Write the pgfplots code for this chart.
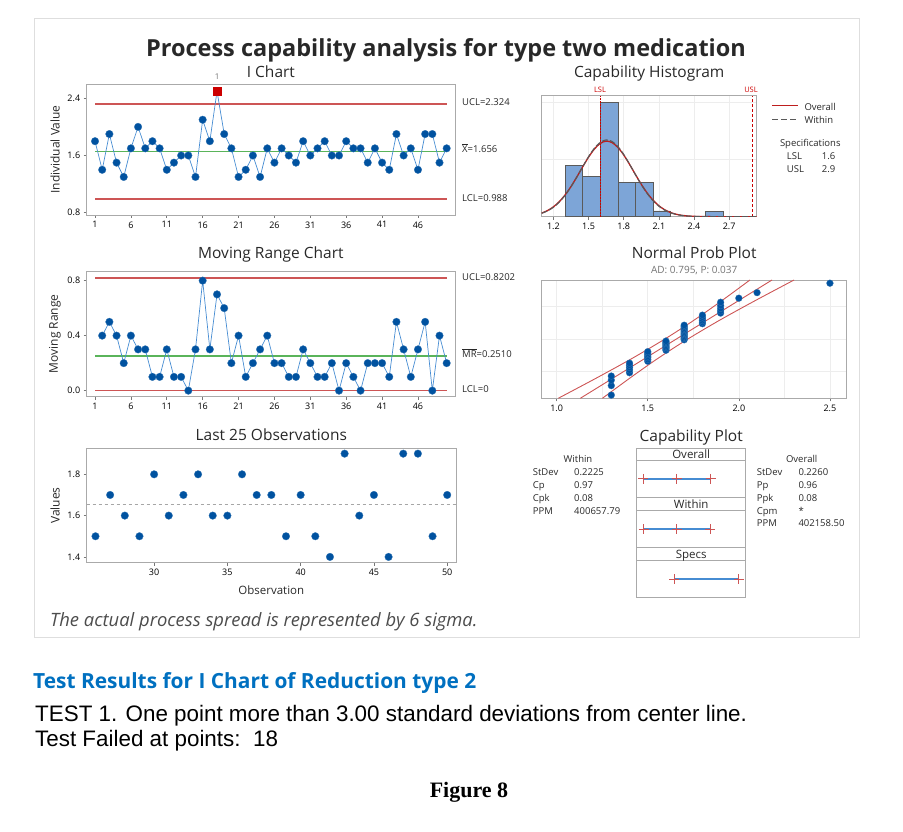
\documentclass[border=0pt]{standalone}
\usepackage{fontspec}
\setmainfont{Open Sans}
\newfontfamily\arialfont{Liberation Sans}
\newfontfamily\timesfont{Liberation Serif}
\usepackage{pgfplots}
\pgfplotsset{compat=1.18}
\usepackage{pgfplotstable}

\newcommand\fs[1]{\fontsize{#1}{#1}\selectfont}

\definecolor{mtblue}{RGB}{0,82,160}
\definecolor{mtline}{RGB}{70,140,210}
\definecolor{limred}{RGB}{205,85,85}
\definecolor{mtredpt}{RGB}{204,0,0}
\definecolor{mtgreen}{RGB}{90,180,90}
\definecolor{mtbar}{RGB}{125,165,215}
\definecolor{mtbarline}{RGB}{90,90,90}
\definecolor{mtcurve}{RGB}{190,30,30}
\definecolor{mtframe}{RGB}{170,170,170}
\definecolor{mttext}{RGB}{40,40,40}
\definecolor{headblue}{RGB}{0,112,192}

% individual values and moving ranges, obs 1..50
\pgfplotstableread{
obs val mr
1 1.8 nan
2 1.4 0.4
3 1.9 0.5
4 1.5 0.4
5 1.3 0.2
6 1.7 0.4
7 2.0 0.3
8 1.7 0.3
9 1.8 0.1
10 1.7 0.1
11 1.4 0.3
12 1.5 0.1
13 1.6 0.1
14 1.6 0.0
15 1.3 0.3
16 2.1 0.8
17 1.8 0.3
18 2.5 0.7
19 1.9 0.6
20 1.7 0.2
21 1.3 0.4
22 1.4 0.1
23 1.6 0.2
24 1.3 0.3
25 1.7 0.4
26 1.5 0.2
27 1.7 0.2
28 1.6 0.1
29 1.5 0.1
30 1.8 0.3
31 1.6 0.2
32 1.7 0.1
33 1.8 0.1
34 1.6 0.2
35 1.6 0.0
36 1.8 0.2
37 1.7 0.1
38 1.7 0.0
39 1.5 0.2
40 1.7 0.2
41 1.5 0.2
42 1.4 0.1
43 1.9 0.5
44 1.6 0.3
45 1.7 0.1
46 1.4 0.3
47 1.9 0.5
48 1.9 0.0
49 1.5 0.4
50 1.7 0.2
}\ichart

% sorted values against normal scores
\pgfplotstableread{
val z
1.3 -2.200
1.3 -1.828
1.3 -1.611
1.3 -1.451
1.4 -1.321
1.4 -1.210
1.4 -1.113
1.4 -1.025
1.4 -0.944
1.5 -0.869
1.5 -0.798
1.5 -0.732
1.5 -0.668
1.5 -0.607
1.5 -0.548
1.5 -0.492
1.6 -0.436
1.6 -0.382
1.6 -0.329
1.6 -0.277
1.6 -0.226
1.6 -0.175
1.6 -0.125
1.6 -0.075
1.7 -0.025
1.7 0.025
1.7 0.075
1.7 0.125
1.7 0.175
1.7 0.226
1.7 0.277
1.7 0.329
1.7 0.382
1.7 0.436
1.7 0.492
1.7 0.548
1.8 0.607
1.8 0.668
1.8 0.732
1.8 0.798
1.8 0.869
1.8 0.944
1.9 1.025
1.9 1.113
1.9 1.210
1.9 1.321
1.9 1.451
2.0 1.611
2.1 1.828
2.5 2.200
}\nprob

% fitted curves (overall / within), in counts per bin
\pgfplotstableread{
x ov wi
1.10 0.642 0.593
1.15 1.080 1.013
1.20 1.730 1.647
1.25 2.636 2.546
1.30 3.828 3.741
1.35 5.293 5.224
1.40 6.971 6.939
1.45 8.740 8.761
1.50 10.43 10.52
1.55 11.86 12.01
1.60 12.84 13.03
1.65 13.24 13.45
1.70 12.99 13.19
1.75 12.14 12.30
1.80 10.81 10.91
1.85 9.16 9.20
1.90 7.39 7.37
1.95 5.68 5.62
2.00 4.16 4.07
2.05 2.90 2.80
2.10 1.92 1.84
2.15 1.21 1.14
2.20 0.731 0.677
2.25 0.419 0.381
2.30 0.228 0.204
2.35 0.119 0.104
2.40 0.059 0.050
2.45 0.028 0.023
2.50 0.012 0.010
2.60 0.002 0.001
2.70 0.000 0.000
2.95 0.000 0.000
}\curves

\pgfplotsset{
  mt/.style={
    scale only axis,
    axis line style={draw=mtframe, line width=0.9pt},
    tick style={draw=mtframe!70!black, line width=0.6pt},
    major tick length=3pt,
    tick align=outside,
    tick pos=left,
    ticklabel style={font=\fs{9}, text=black},
    /pgf/number format/assume math mode=true,
  },
  dec1/.style={/pgf/number format/.cd, fixed, fixed zerofill, precision=1},
  pts/.style={only marks, mark=*, mark size=3.8pt,
    mark options={fill=mtblue, draw=mtblue!80!white, line width=0.3pt}},
  lim/.style={color=limred, line width=1.6pt},
}

\begin{document}
\begin{tikzpicture}[x=1pt,y=1pt]
\useasboundingbox (0,0) rectangle (903,832);
\draw[black!13, line width=0.8pt] (34,814) rectangle (859,195);

% ---------- I chart
\begin{axis}[mt, at={(86.7pt,748pt)}, anchor=north west,
  width=368.3pt, height=131pt,
  xmin=-0.16, xmax=51.16, ymin=0.768, ymax=2.6,
  xtick={1,6,...,46}, ytick={0.8,1.6,2.4}, yticklabel style={dec1}]
\addplot[lim] coordinates {(1,2.324) (50,2.324)};
\addplot[lim] coordinates {(1,0.988) (50,0.988)};
\addplot[mtgreen, line width=1.4pt] coordinates {(1,1.656) (50,1.656)};
\addplot[mtline, line width=0.7pt] table[x=obs,y=val]{\ichart};
\addplot[pts, skip coords between index={17}{18}] table[x=obs,y=val]{\ichart};
\addplot[only marks, mark=square*, mark size=4.2pt,
  mark options={fill=mtredpt, draw=mtredpt}] coordinates {(18,2.5)};
\end{axis}

% ---------- Moving range chart
\begin{axis}[mt, at={(86.7pt,561pt)}, anchor=north west,
  width=368.3pt, height=125.7pt,
  xmin=-0.16, xmax=51.16, ymin=-0.044, ymax=0.87,
  xtick={1,6,...,46}, ytick={0,0.4,0.8}, yticklabel style={dec1}]
\addplot[lim] coordinates {(1,0.8202) (50,0.8202)};
\addplot[lim] coordinates {(1,0) (50,0)};
\addplot[mtgreen, line width=1.4pt] coordinates {(1,0.2510) (50,0.2510)};
\addplot[mtline, line width=0.7pt] table[x=obs,y=mr]{\ichart};
\addplot[pts] table[x=obs,y=mr]{\ichart};
\end{axis}

% ---------- Last 25 observations
\begin{axis}[mt, at={(86.7pt,383.7pt)}, anchor=north west,
  width=369.3pt, height=114.4pt,
  xmin=25.4, xmax=50.6, ymin=1.372, ymax=1.926,
  xtick={30,35,...,50}, ytick={1.4,1.6,1.8}, yticklabel style={dec1}]
\addplot[black!35, dashed, line width=0.8pt] coordinates {(25.4,1.656) (50.6,1.656)};
\addplot[pts, skip coords between index={0}{25}] table[x=obs,y=val]{\ichart};
\end{axis}

% ---------- Capability histogram
\begin{axis}[mt, at={(541.7pt,736.3pt)}, anchor=north west,
  width=215pt, height=121pt,
  xmin=1.1, xmax=2.935, ymin=0, ymax=21.2,
  xtick={1.2,1.5,1.8,2.1,2.4,2.7}, xticklabel style={dec1},
  ytick={10,20}, yticklabels={}, ytick style={draw=none},
  grid=major, grid style={black!7, line width=0.5pt}]
\addplot[ybar interval, fill=mtbar, draw=mtbarline, line width=0.7pt]
  coordinates {(1.3,9) (1.45,7) (1.6,20) (1.75,6) (1.9,6) (2.05,1) (2.2,1)};
\addplot[ybar interval, fill=mtbar, draw=mtbarline, line width=0.7pt]
  coordinates {(2.5,1) (2.65,1)};
\addplot[mtredpt, dash pattern=on 1.5pt off 1.5pt, line width=0.9pt] coordinates {(1.6,0) (1.6,21.2)};
\addplot[mtredpt, dash pattern=on 3pt off 2pt, line width=0.9pt] coordinates {(2.9,0) (2.9,21.2)};
\addplot[mtcurve, line width=1.3pt, smooth] table[x=x,y=ov]{\curves};
\addplot[black!65, dash pattern=on 6pt off 2pt, line width=1.1pt, smooth] table[x=x,y=wi]{\curves};
\end{axis}

% ---------- Normal probability plot
\begin{axis}[mt, at={(541.7pt,552pt)}, anchor=north west,
  width=305pt, height=118.3pt,
  xmin=0.918, xmax=2.592, ymin=-2.326, ymax=2.326,
  xtick={1,1.5,2,2.5}, minor xtick={1.25,1.75,2.25}, minor tick length=0pt,
  xticklabel style={dec1},
  ytick={-1.2816,0,1.2816}, yticklabels={}, ytick style={draw=none},
  grid=both, grid style={black!7, line width=0.5pt},
  minor grid style={black!7, line width=0.5pt}]
\addplot[limred, line width=0.9pt] coordinates {(1.130,-2.326) (2.182,2.326)};
\addplot[limred, line width=0.9pt, smooth] coordinates {(1.009,-2.326) (1.226,-1.5) (1.416,-0.75) (1.593,0) (1.755,0.75) (1.904,1.5) (2.061,2.326)};
\addplot[limred, line width=0.9pt, smooth] coordinates {(1.251,-2.326) (1.408,-1.5) (1.557,-0.75) (1.719,0) (1.896,0.75) (2.086,1.5) (2.303,2.326)};
\addplot[pts, mark size=3.4pt] table[x=val,y=z]{\nprob};
\end{axis}

% ---------- Capability plot
\begin{axis}[scale only axis, at={(636.7pt,383.7pt)}, anchor=north west,
  width=109pt, height=149.4pt,
  xmin=0.849, xmax=3.041, ymin=0, ymax=149.4,
  axis line style={draw=mtframe, line width=0.9pt},
  xtick=\empty, ytick=\empty]
\addplot[mtline, line width=1.6pt, mark=+, mark size=5pt,
  mark options={limred, line width=1pt}] coordinates {(0.978,118.7) (1.656,118.7) (2.334,118.7)};
\addplot[mtline, line width=1.6pt, mark=+, mark size=5pt,
  mark options={limred, line width=1pt}] coordinates {(0.9885,68.4) (1.656,68.4) (2.3235,68.4)};
\addplot[mtline, line width=1.6pt, mark=+, mark size=5pt,
  mark options={limred, line width=1pt}] coordinates {(1.6,18.4) (2.9,18.4)};
\end{axis}
\foreach \yy in {371.7,334.7,321.7,284.7,271.7}
  \draw[mtframe, line width=0.9pt] (636.7,\yy) -- (745.7,\yy);

% ---------- texts
\begin{scope}[every node/.style={inner sep=0pt, text=mttext}]
\node[anchor=base, font=\bfseries\fs{23.5}] at (446,775.3) {Process capability analysis for type two medication};
\node[anchor=base, font=\fs{15.5}] at (270.9,754.7) {I Chart};
\node[anchor=base, font=\fs{8}, text=black!55] at (217.1,752) {1};
\node[anchor=base, font=\fs{15.5}] at (270.9,573.5) {Moving Range Chart};
\node[anchor=base, font=\fs{15.5}] at (271.3,391) {Last 25 Observations};
\node[anchor=base, font=\fs{15.5}] at (649.2,754.7) {Capability Histogram};
\node[anchor=base, font=\fs{15.5}] at (694.2,573.7) {Normal Prob Plot};
\node[anchor=base, font=\fs{10}, text=black!55] at (694.2,558) {AD: 0.795, P: 0.037};
\node[anchor=base, font=\fs{15.5}] at (691.2,390.3) {Capability Plot};

\begin{scope}[every node/.append style={anchor=base west, font=\fs{9.5}}]
\node at (462,726.7) {UCL=2.324};
\node at (462,679.3) {$\overline{\mbox{X}}$=1.656};
\node at (462,630.3) {LCL=0.988};
\node at (462,551.3) {UCL=0.8202};
\node at (462,474.3) {$\overline{\mbox{MR}}$=0.2510};
\node at (462,439.3) {LCL=0};
\end{scope}

\node[rotate=90, font=\fs{12}] at (55,682.5) {Individual Value};
\node[rotate=90, font=\fs{12}] at (55,498.2) {Moving Range};
\node[rotate=90, font=\fs{12}] at (55,326.5) {Values};
\node[anchor=base, font=\fs{11.5}] at (271.3,237) {Observation};
\node[anchor=base west, font=\itshape\fs{18.4}, text=black!70] at (50,205.3) {The actual process spread is represented by 6 sigma.};

% histogram legend
\node[anchor=base, font=\fs{7.5}, text=mtredpt] at (600,739.3) {LSL};
\node[anchor=base, font=\fs{7.5}, text=mtredpt] at (751,739.3) {USL};
\draw[mtcurve, line width=1.6pt] (772,726.3) -- (798,726.3);
\draw[black!65, line width=1.3pt, dash pattern=on 6pt off 3pt] (772,712.3) -- (798,712.3);
\begin{scope}[every node/.append style={anchor=base west, font=\fs{9.5}}]
\node at (804.3,721.3) {Overall};
\node at (804.3,708) {Within};
\node[anchor=base] at (810.3,685.3) {Specifications};
\node at (786.7,672) {LSL};
\node at (821.7,672) {1.6};
\node at (786.7,659.3) {USL};
\node at (821.7,659.3) {2.9};
\end{scope}

% capability stats
\begin{scope}[every node/.append style={anchor=base west, font=\fs{9.5}}]
\node[anchor=base] at (578,369.7) {Within};
\node at (532.7,356) {StDev}; \node at (574,356) {0.2225};
\node at (532.7,343.3) {Cp}; \node at (574,343.3) {0.97};
\node at (532.7,330.3) {Cpk}; \node at (574,330.3) {0.08};
\node at (532.7,317.7) {PPM}; \node at (574,317.7) {400657.79};
\node[anchor=base] at (801.7,369.7) {Overall};
\node at (756.7,356) {StDev}; \node at (798.3,356) {0.2260};
\node at (756.7,343.3) {Pp}; \node at (798.3,343.3) {0.96};
\node at (756.7,330.3) {Ppk}; \node at (798.3,330.3) {0.08};
\node at (756.7,317.7) {Cpm}; \node at (798.3,317.7) {*};
\node at (756.7,305) {PPM}; \node at (798.3,305) {402158.50};
\end{scope}
\node[anchor=base, font=\fs{11.5}] at (691.2,373.3) {Overall};
\node[anchor=base, font=\fs{11.5}] at (691.2,323.3) {Within};
\node[anchor=base, font=\fs{11.5}] at (691.2,273) {Specs};

% report text below the graph
\node[anchor=base west, font=\bfseries\fs{20.9}, text=headblue] at (33,143.7) {Test Results for I Chart of Reduction type 2};
\node[anchor=base west, font=\arialfont\fs{22.4}, text=black] at (35,110.3) {TEST 1. One point more than 3.00 standard deviations from center line.};
\node[anchor=base west, font=\arialfont\fs{22.4}, text=black] at (35,85.3) {Test Failed at points:\ \ 18};
\node[anchor=base, font=\timesfont\bfseries\fs{22}, text=black] at (469,34) {Figure 8};
\end{scope}
\end{tikzpicture}
\end{document}
